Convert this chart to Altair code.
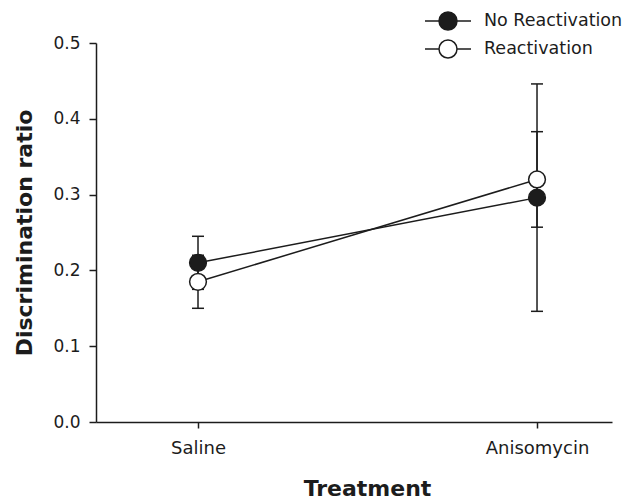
import altair as alt
import pandas as pd

treatments = ["Saline", "Anisomycin"]
groups = ["No Reactivation", "Reactivation"]
mean_no_react = [0.210, 0.296]
sem_no_react = [0.035, 0.150]
mean_react = [0.185, 0.320]
sem_react = [0.035, 0.063]
y_ticks = [0.0, 0.1, 0.2, 0.3, 0.4, 0.5]

rows = []
for gi, (g, means, sems) in enumerate(zip(groups, [mean_no_react, mean_react], [sem_no_react, sem_react])):
    for ti, t in enumerate(treatments):
        rows.append({"treatment": t, "xi": ti, "group": g, "mean": means[ti],
                     "lo": means[ti] - sems[ti], "hi": means[ti] + sems[ti],
                     "draw": 1 - gi})
df = pd.DataFrame(rows)

INK = "#1c1c1c"
FONT = "DejaVu Sans"

label_expr = " : ".join(
    [f"datum.value == {i} ? '{t}'" for i, t in enumerate(treatments)]
) + " : ''"

x_enc = alt.X("xi:Q",
              scale=alt.Scale(domain=[-0.3009, 1.2212], nice=False, zero=False),
              axis=alt.Axis(values=list(range(len(treatments))), labelExpr=label_expr,
                            title="Treatment", grid=False, tickSize=6, labelPadding=11,
                            labelFontSize=18, labelBaseline="top",
                            titleFontSize=22, titleFontWeight="bold",
                            titleX=271, titleY=73, titleAlign="center",
                            titleBaseline="alphabetic"))
y_scale = alt.Scale(domain=[0, 0.5], nice=False)
y_axis = alt.Axis(values=y_ticks, format=".1f", title="Discrimination ratio", grid=False,
                  tickSize=7, labelPadding=9, labelFontSize=17,
                  titleFontSize=22, titleFontWeight="bold", titleAngle=270,
                  titleX=-65, titleY=189.5, titleAlign="center", titleBaseline="alphabetic")

base = alt.Chart(df)

lines = base.mark_line(color=INK, strokeWidth=1.5).encode(
    x=x_enc, y=alt.Y("mean:Q", scale=y_scale, axis=y_axis), detail="group:N")

err = base.mark_rule(color=INK, strokeWidth=1.5).encode(
    x="xi:Q", y=alt.Y("lo:Q"), y2="hi:Q")

cap_lo = base.mark_tick(color=INK, orient="horizontal", size=12, thickness=1.5, opacity=1).encode(
    x="xi:Q", y="lo:Q")
cap_hi = base.mark_tick(color=INK, orient="horizontal", size=12, thickness=1.5, opacity=1).encode(
    x="xi:Q", y="hi:Q")

sym = "M-2.3,0L-0.9,0M0.9,0L2.3,0M-0.9,0A0.9,0.9,0,1,1,0.9,0A0.9,0.9,0,1,1,-0.9,0Z"

points = base.mark_point(shape="circle", filled=True, size=280, stroke=INK,
                         strokeWidth=1.5, opacity=1).encode(
    x="xi:Q", y="mean:Q",
    fill=alt.Fill("group:N", scale=alt.Scale(domain=groups, range=[INK, "white"]),
                  legend=alt.Legend(title=None, orient="none", legendX=341, legendY=-33,
                                    symbolType=sym, symbolSize=400, symbolStrokeColor=INK,
                                    symbolStrokeWidth=1.5, symbolOpacity=1,
                                    labelOffset=25, labelFontSize=17.5, labelFont=FONT,
                                    labelColor=INK, rowPadding=4, padding=0)),
    order=alt.Order("draw:Q"))

chart = alt.layer(lines, err, cap_lo, cap_hi, points).properties(
    width=516, height=379,
    autosize=alt.AutoSizeParams(type="none"),
    padding={"left": 88, "top": 35, "right": 13, "bottom": 80},
).configure_view(stroke=None).configure_axis(
    domainColor=INK, domainWidth=1.5, tickColor=INK, tickWidth=1.5,
    labelColor=INK, titleColor=INK, labelFont=FONT, titleFont=FONT,
)

chart.save("out.html", embed_options={"renderer": "svg", "actions": False})
